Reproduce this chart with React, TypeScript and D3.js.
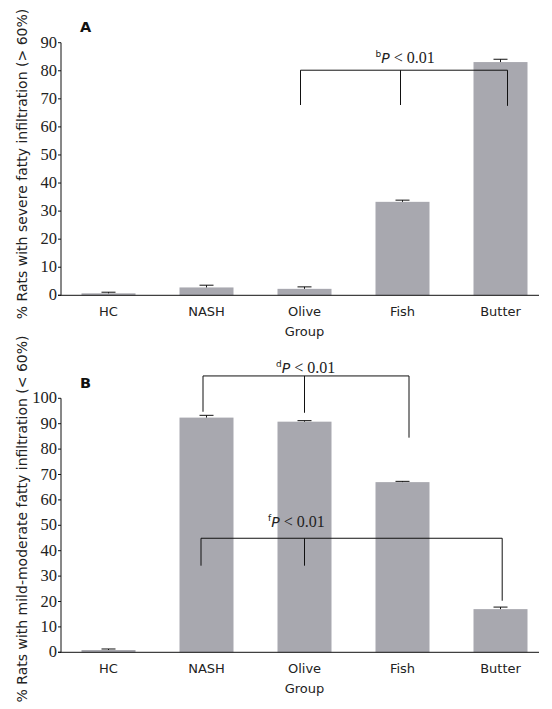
import React from "react";
import * as d3 from "d3";

const groups = ["HC", "NASH", "Olive", "Fish", "Butter"];
const severeValues = [0.7, 2.8, 2.3, 33.3, 83.1];
const severeErrors = [0.4, 0.8, 0.7, 0.6, 1.0];
const mildValues = [0.9, 92.4, 90.8, 67.0, 17.0];
const mildErrors = [0.4, 0.9, 0.4, 0.3, 0.8];
const severeTicks = [0, 10, 20, 30, 40, 50, 60, 70, 80, 90];
const mildTicks = [0, 10, 20, 30, 40, 50, 60, 70, 80, 90, 100];

const bracketsA = [
  { sup: "b", textGroup: "Olive", textValue: 82.9, level: 80.2, legs: [["Olive", 67.8], ["Fish", 67.8], ["Butter", 67.5]] as [string, number][] },
];
const bracketsB = [
  { sup: "d", textGroup: "NASH", textValue: 110, level: 108.8, legs: [["NASH", 94.7], ["Olive", 94.3], ["Fish", 84.5]] as [string, number][] },
  { sup: "f", textGroup: "NASH", textValue: 49.4, level: 44.9, legs: [["NASH", 34.1], ["Olive", 34.1], ["Butter", 20.3]] as [string, number][] },
];

const SANS = "'DejaVu Sans', Verdana, sans-serif";
const SERIF = "'Liberation Serif', 'Times New Roman', serif";
const BAR = "#a8a8af";

type PanelProps = {
  letter: string;
  title: string;
  values: number[];
  errors: number[];
  ticks: number[];
  yMax: number;
  top: number;
  bottom: number;
  titleCenter: number;
  brackets: typeof bracketsA;
  legOffsets: number[][];
  textOffsets: number[];
};

function Panel(p: PanelProps) {
  const x = d3.scaleBand<string>().domain(groups).range([59.5, 549.5]).paddingInner(0.449).paddingOuter(0.2245);
  const y = d3.scaleLinear().domain([0, p.yMax]).range([p.bottom, p.top]);
  const cx = (g: string) => (x(g) as number) + x.bandwidth() / 2;
  const axisX0 = 61;
  const axisX1 = 539;
  return (
    <g>
      <text x={80} y={p.top - 10.5} fontFamily={SANS} fontWeight="bold" fontSize={14.5} fill="#111">{p.letter}</text>
      <text transform={`translate(27,${p.titleCenter}) rotate(-90)`} textAnchor="middle" fontFamily={SANS} fontSize={14} fill="#222">{p.title}</text>
      {groups.map((g, i) => (
        <g key={g}>
          <rect x={x(g)} y={y(p.values[i])} width={x.bandwidth()} height={y(0) - y(p.values[i])} fill={BAR} />
          <line x1={cx(g)} x2={cx(g)} y1={y(p.values[i])} y2={y(p.values[i] + p.errors[i])} stroke="#111" strokeWidth={1} />
          <line x1={cx(g) - 7} x2={cx(g) + 7} y1={y(p.values[i] + p.errors[i])} y2={y(p.values[i] + p.errors[i])} stroke="#111" strokeWidth={1} />
          <text x={cx(g)} y={p.bottom + 20.5} textAnchor="middle" fontFamily={SANS} fontSize={13} fill="#222">{g}</text>
        </g>
      ))}
      <line x1={axisX0} x2={axisX0} y1={p.top} y2={p.bottom} stroke="#111" strokeWidth={1} />
      <line x1={axisX0 - 3} x2={axisX1} y1={p.bottom} y2={p.bottom} stroke="#111" strokeWidth={1} />
      {p.ticks.map((t) => (
        <g key={t}>
          <line x1={axisX0 - 3} x2={axisX0} y1={y(t)} y2={y(t)} stroke="#111" strokeWidth={1} />
          <text x={axisX0 - 4} y={y(t) + 5} textAnchor="end" fontFamily={SERIF} fontSize={16.5} fill="#222">{t}</text>
        </g>
      ))}
      <text x={cx("Olive")} y={p.bottom + 41} textAnchor="middle" fontFamily={SANS} fontSize={13} fill="#222">Group</text>
      {p.brackets.map((b, bi) => {
        const xs = b.legs.map(([g], li) => cx(g) + p.legOffsets[bi][li]);
        return (
          <g key={bi}>
            <line x1={xs[0]} x2={xs[xs.length - 1]} y1={y(b.level)} y2={y(b.level)} stroke="#111" strokeWidth={1} />
            {b.legs.map(([g, v], li) => (
              <line key={g} x1={xs[li]} x2={xs[li]} y1={y(b.level)} y2={y(v)} stroke="#111" strokeWidth={1} />
            ))}
            <text x={cx(b.textGroup) + p.textOffsets[bi]} y={y(b.textValue)} fontFamily={SERIF} fontSize={16} fill="#222">
              <tspan fontFamily={SANS} fontSize={9} dy={-6}>{b.sup}</tspan>
              <tspan fontFamily={SANS} fontStyle="italic" fontSize={14} dy={6}>P</tspan>
              <tspan> {"< 0.01"}</tspan>
            </text>
          </g>
        );
      })}
    </g>
  );
}

export default function App() {
  return (
    <svg width={552} height={709} style={{ position: "absolute", left: 0, top: 0, background: "#fff" }}>
      <rect width={552} height={709} fill="#fff" />
      <Panel
        letter="A"
        title="% Rats with severe fatty infiltration (> 60%)"
        values={severeValues}
        errors={severeErrors}
        ticks={severeTicks}
        yMax={90}
        top={42.7}
        bottom={295.3}
        titleCenter={164}
        brackets={bracketsA}
        legOffsets={[[-4, -2, 7]]}
        textOffsets={[71]}
      />
      <Panel
        letter="B"
        title="% Rats with mild-moderate fatty infiltration (< 60%)"
        values={mildValues}
        errors={mildErrors}
        ticks={mildTicks}
        yMax={100}
        top={398.3}
        bottom={652.3}
        titleCenter={519}
        brackets={bracketsB}
        legOffsets={[[-3.5, 0, 6.5], [-5.5, 0, 1.7]]}
        textOffsets={[69.5, 61.5]}
      />
    </svg>
  );
}
